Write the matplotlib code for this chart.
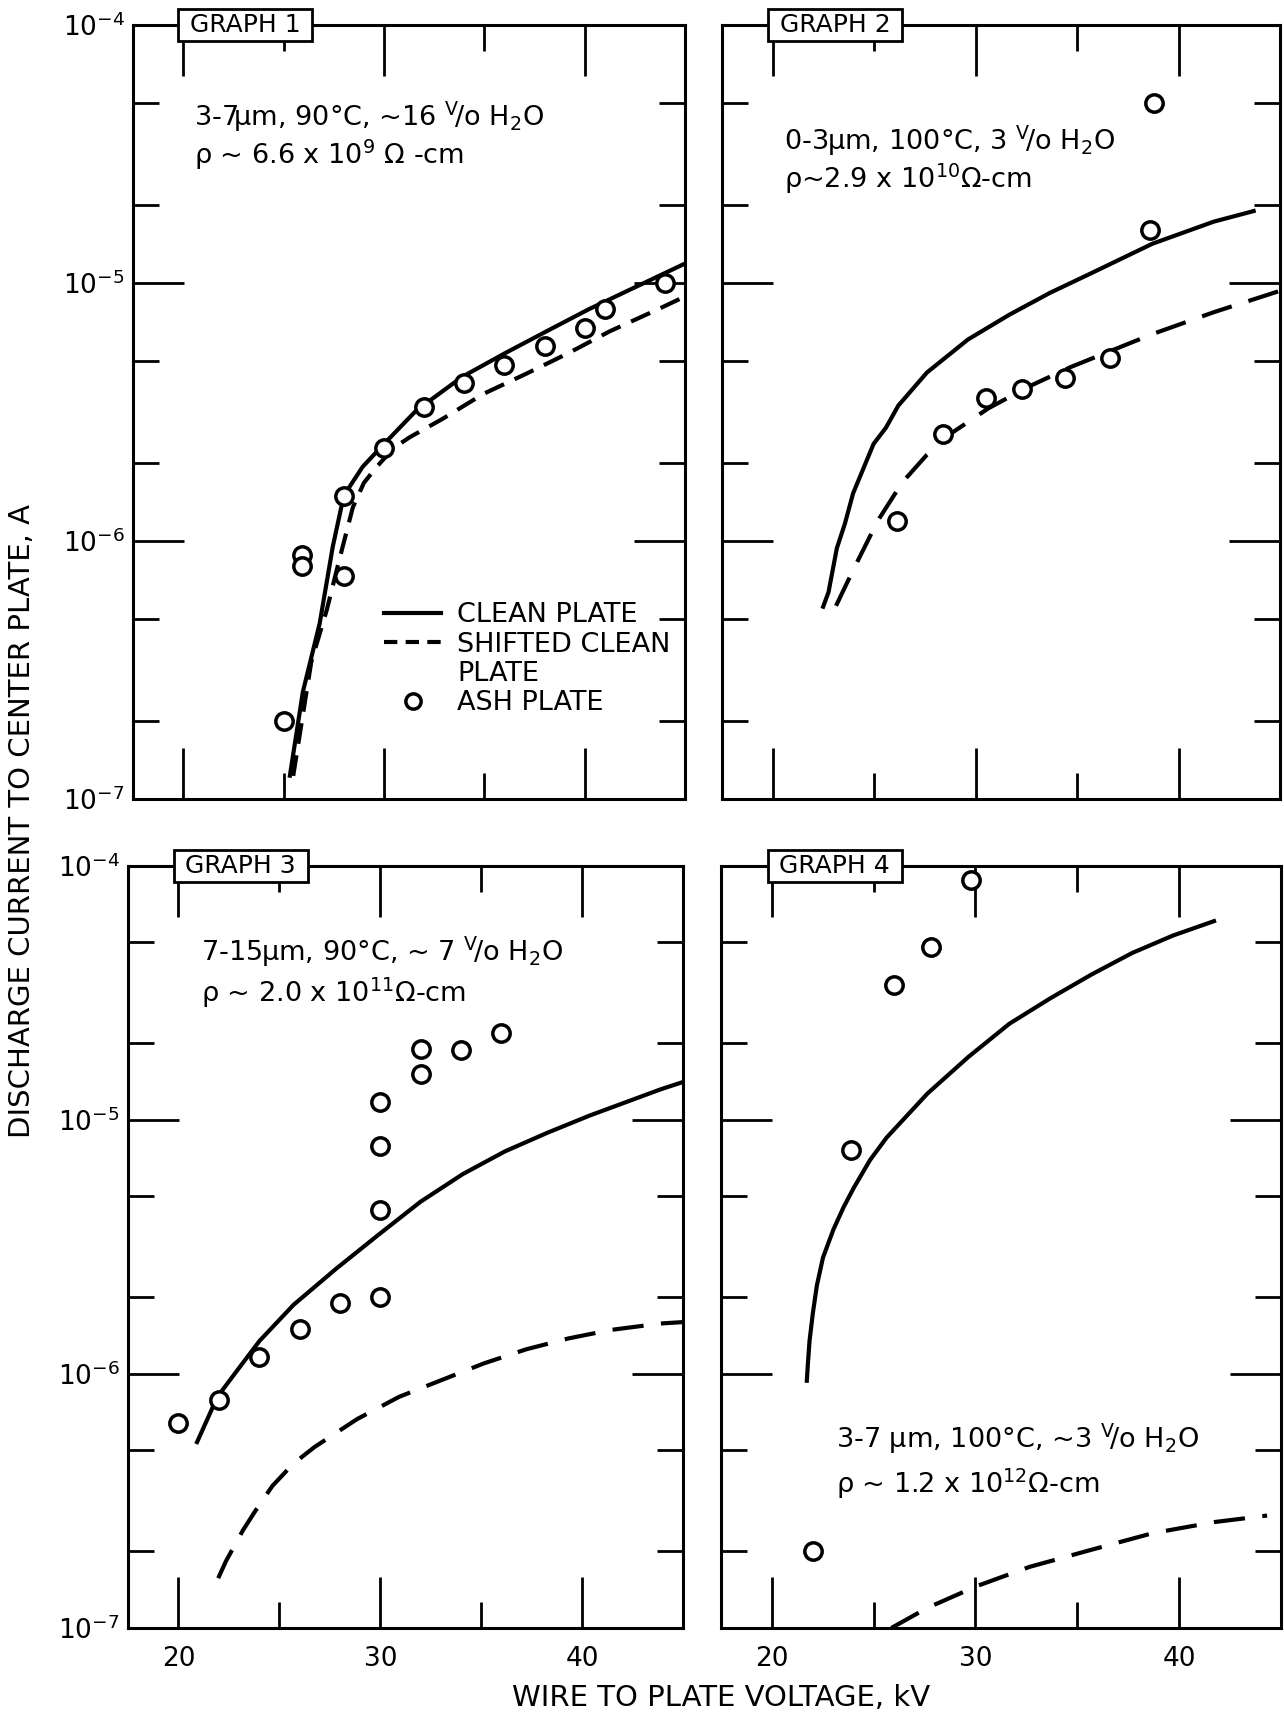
import matplotlib
matplotlib.use("Agg")
import matplotlib.pyplot as plt
from matplotlib.lines import Line2D
from matplotlib.ticker import FixedLocator, LogLocator, NullFormatter

plt.rcParams['font.family'] = ['DejaVu Sans']
plt.rcParams['mathtext.fontset'] = 'dejavusans'

# ---- graph 1 : 3-7 um, 90 C ----
g1_ash_kv = [25, 25.9, 25.9, 28, 28, 30, 32, 34, 36, 38, 40, 41, 44]
g1_ash_amp = [2.0e-7, 8.8e-7, 8.0e-7, 1.5e-6, 7.3e-7, 2.3e-6, 3.3e-6,
              4.1e-6, 4.8e-6, 5.7e-6, 6.7e-6, 7.9e-6, 1.0e-5]
g1_clean_kv = [25.3, 25.96, 26.8, 27.45, 28.0, 28.94, 29.94, 31.6, 33.9,
               36.0, 38.1, 40.2, 42.3, 45.0]
g1_clean_amp = [1.21e-7, 2.6e-7, 4.8e-7, 9.5e-7, 1.5e-6, 1.94e-6, 2.35e-6,
                3.2e-6, 4.33e-6, 5.33e-6, 6.5e-6, 7.91e-6, 9.46e-6, 1.19e-5]
g1_shift_kv = [25.48, 26.38, 27.15, 27.8, 28.45, 29.0, 29.64, 30.5, 31.3,
               32.87, 34.96, 37.06, 39.15, 41.25, 43.65, 45.0]
g1_shift_amp = [1.23e-7, 3.4e-7, 5.4e-7, 8.6e-7, 1.35e-6, 1.68e-6, 1.94e-6,
                2.3e-6, 2.53e-6, 2.96e-6, 3.72e-6, 4.44e-6, 5.33e-6, 6.5e-6,
                7.91e-6, 8.87e-6]

# ---- graph 2 : 0-3 um, 100 C ----
g2_ash_kv = [38.8, 38.6, 36.6, 34.4, 32.3, 30.5, 28.4, 26.1]
g2_ash_amp = [5.0e-5, 1.6e-5, 5.1e-6, 4.3e-6, 3.9e-6, 3.6e-6, 2.6e-6, 1.2e-6]
g2_clean_kv = [22.45, 22.75, 23.16, 23.56, 23.96, 24.97, 25.58, 26.19, 27.6,
               29.62, 31.64, 33.66, 35.68, 38.71, 41.74, 43.8]
g2_clean_amp = [5.47e-7, 6.34e-7, 9.38e-7, 1.17e-6, 1.53e-6, 2.38e-6, 2.75e-6,
                3.35e-6, 4.5e-6, 6.04e-6, 7.52e-6, 9.16e-6, 1.09e-5, 1.42e-5,
                1.73e-5, 1.91e-5]
g2_shift_kv = [23.12, 23.96, 25.18, 26.39, 27.6, 28.81, 30.63, 32.65, 34.67,
               36.69, 38.71, 41.74, 45.0]
g2_shift_amp = [5.61e-7, 7.71e-7, 1.2e-6, 1.69e-6, 2.16e-6, 2.62e-6, 3.27e-6,
                3.98e-6, 4.72e-6, 5.47e-6, 6.34e-6, 7.71e-6, 9.33e-6]

# ---- graph 3 : 7-15 um, 90 C ----
g3_ash_kv = [20, 22, 24, 26, 28, 30, 30, 30, 30, 32, 32, 34, 36]
g3_ash_amp = [6.4e-7, 7.9e-7, 1.17e-6, 1.5e-6, 1.9e-6, 2.0e-6, 4.4e-6,
              7.9e-6, 1.18e-5, 1.52e-5, 1.9e-5, 1.88e-5, 2.2e-5]
g3_clean_kv = [20.88, 21.93, 22.98, 24.02, 25.7, 27.8, 29.89, 31.99, 34.09,
               36.18, 38.28, 40.37, 43.9, 45.0]
g3_clean_amp = [5.3e-7, 8.13e-7, 1.05e-6, 1.35e-6, 1.87e-6, 2.59e-6, 3.52e-6,
                4.76e-6, 6.12e-6, 7.52e-6, 8.9e-6, 1.04e-5, 1.32e-5, 1.41e-5]
g3_shift_kv = [21.97, 22.35, 23.19, 23.81, 24.65, 25.7, 26.75, 28.85, 30.94,
               33.04, 35.13, 37.23, 39.33, 41.42, 43.9, 45.0]
g3_shift_amp = [1.57e-7, 1.83e-7, 2.42e-7, 2.89e-7, 3.62e-7, 4.44e-7, 5.16e-7,
                6.64e-7, 8.13e-7, 9.46e-7, 1.1e-6, 1.25e-6, 1.38e-6, 1.49e-6,
                1.58e-6, 1.6e-6]

# ---- graph 4 : 3-7 um, 100 C ----
g4_ash_kv = [29.8, 27.8, 26.0, 23.9, 22.0]
g4_ash_amp = [8.8e-5, 4.8e-5, 3.4e-5, 7.6e-6, 2.0e-7]
g4_clean_kv = [21.71, 21.77, 21.85, 22.01, 22.21, 22.51, 23.02, 23.52, 24.02,
               24.82, 25.63, 27.64, 29.65, 31.66, 33.67, 35.68, 37.69, 39.7, 41.81]
g4_clean_amp = [9.23e-7, 1.10e-6, 1.35e-6, 1.73e-6, 2.23e-6, 2.87e-6, 3.7e-6,
                4.53e-6, 5.4e-6, 6.95e-6, 8.51e-6, 1.27e-5, 1.77e-5, 2.39e-5,
                3.01e-5, 3.73e-5, 4.54e-5, 5.32e-5, 6.1e-5]
g4_shift_kv = [25.87, 27.64, 30.05, 32.66, 35.68, 38.69, 41.71, 44.32]
g4_shift_amp = [1.0e-7, 1.2e-7, 1.46e-7, 1.74e-7, 2.03e-7, 2.36e-7, 2.61e-7, 2.77e-7]

graph_titles = ["GRAPH 1", "GRAPH 2", "GRAPH 3", "GRAPH 4"]
conditions = [
    ["3-7µm, 90°C, ~16 $^{\\rm V}\\!$/o H$_2$O", "ρ ~ 6.6 x 10$^{9}$ Ω -cm"],
    ["0-3µm, 100°C, 3 $^{\\rm V}\\!$/o H$_2$O", "ρ~2.9 x 10$^{10}$Ω-cm"],
    ["7-15µm, 90°C, ~ 7 $^{\\rm V}\\!$/o H$_2$O", "ρ ~ 2.0 x 10$^{11}$Ω-cm"],
    ["3-7 µm, 100°C, ~3 $^{\\rm V}\\!$/o H$_2$O", "ρ ~ 1.2 x 10$^{12}$Ω-cm"],
]

FS = 18
LW = 3.0

fig = plt.figure(figsize=(12.84, 17.14), dpi=100)
axes_rects = [
    [0.1036, 0.5338, 0.4299, 0.4516],
    [0.5623, 0.5338, 0.4346, 0.4516],
    [0.0997, 0.0502, 0.4322, 0.4446],
    [0.5615, 0.0502, 0.4361, 0.4446],
]
axs = [fig.add_axes(r) for r in axes_rects]


def setup_axes(ax, left_labels, bottom_labels):
    ax.set_xlim(17.5, 45)
    ax.set_yscale('log')
    ax.set_ylim(1e-7, 1e-4)
    ax.xaxis.set_major_locator(FixedLocator([20, 30, 40]))
    ax.xaxis.set_minor_locator(FixedLocator([25, 35]))
    ax.yaxis.set_major_locator(LogLocator(base=10, numticks=10))
    ax.yaxis.set_minor_locator(LogLocator(base=10, subs=(2.0, 5.0), numticks=10))
    ax.yaxis.set_minor_formatter(NullFormatter())
    ax.tick_params(which='both', direction='in', top=True, right=True,
                   width=2.0, color='black')
    ax.tick_params(which='major', length=37, labelsize=19, pad=6)
    ax.tick_params(which='minor', length=19)
    ax.tick_params(axis='x', which='major', pad=13)
    ax.tick_params(labelleft=left_labels, labelbottom=bottom_labels)
    for sp in ax.spines.values():
        sp.set_linewidth(2.2)


def draw_graph(ax, ash_kv, ash_amp, clean_kv, clean_amp, shift_kv, shift_amp, dash):
    ax.plot(clean_kv, clean_amp, color='black', lw=LW, solid_capstyle='butt',
            solid_joinstyle='round', zorder=3)
    ax.plot(shift_kv, shift_amp, color='black', lw=LW, dashes=dash, zorder=3)
    ax.plot(ash_kv, ash_amp, linestyle='none', marker='o', ms=12.5, mfc='white',
            mec='black', mew=2.5, zorder=4)


setup_axes(axs[0], True, False)
setup_axes(axs[1], False, False)
setup_axes(axs[2], True, True)
setup_axes(axs[3], False, True)

draw_graph(axs[0], g1_ash_kv, g1_ash_amp, g1_clean_kv, g1_clean_amp,
           g1_shift_kv, g1_shift_amp, (5.0, 2.8))
draw_graph(axs[1], g2_ash_kv, g2_ash_amp, g2_clean_kv, g2_clean_amp,
           g2_shift_kv, g2_shift_amp, (7.5, 4.2))
draw_graph(axs[2], g3_ash_kv, g3_ash_amp, g3_clean_kv, g3_clean_amp,
           g3_shift_kv, g3_shift_amp, (7.5, 4.2))
draw_graph(axs[3], g4_ash_kv, g4_ash_amp, g4_clean_kv, g4_clean_amp,
           g4_shift_kv, g4_shift_amp, (7.5, 4.2))

# title boxes sitting on the top frame
for ax, title in zip(axs, graph_titles):
    ax.text(0.203, 1.0, " " + title + " ", transform=ax.transAxes, ha='center',
            va='center', fontsize=FS, zorder=10, clip_on=False,
            bbox=dict(boxstyle='square,pad=0.15', fc='white', ec='black', lw=2.0))

# test condition notes
note_pos = [(0.11, 0.882, 0.832), (0.111, 0.851, 0.802),
            (0.131, 0.888, 0.833), (0.206, 0.248, 0.189)]
for ax, (tx, y1, y2), lines in zip(axs, note_pos, conditions):
    ax.text(tx, y1, lines[0], transform=ax.transAxes, fontsize=19.5, va='center')
    ax.text(tx, y2, lines[1], transform=ax.transAxes, fontsize=19.5, va='center')

# legend in graph 1
handles = [
    Line2D([], [], color='black', lw=LW),
    Line2D([], [], color='black', lw=LW, dashes=(3.2, 2.0)),
    Line2D([], [], color='none'),
    Line2D([], [], linestyle='none', marker='o', ms=11, mfc='white', mec='black', mew=2.5),
]
labels = ["CLEAN PLATE", "SHIFTED CLEAN", "PLATE", "ASH PLATE"]
axs[0].legend(handles, labels, loc='upper left', bbox_to_anchor=(0.455, 0.254),
              frameon=False, fontsize=19.5, handlelength=2.1, handletextpad=0.6,
              labelspacing=0.12, borderpad=0, borderaxespad=0)

fig.text(0.017, 0.521, "DISCHARGE CURRENT TO CENTER PLATE, A", rotation=90,
         ha='center', va='center', fontsize=21)
fig.text(0.5615, 0.0095, "WIRE TO PLATE VOLTAGE, kV", ha='center', va='center',
         fontsize=21)

fig.savefig("out.png", dpi=100, facecolor='white')
